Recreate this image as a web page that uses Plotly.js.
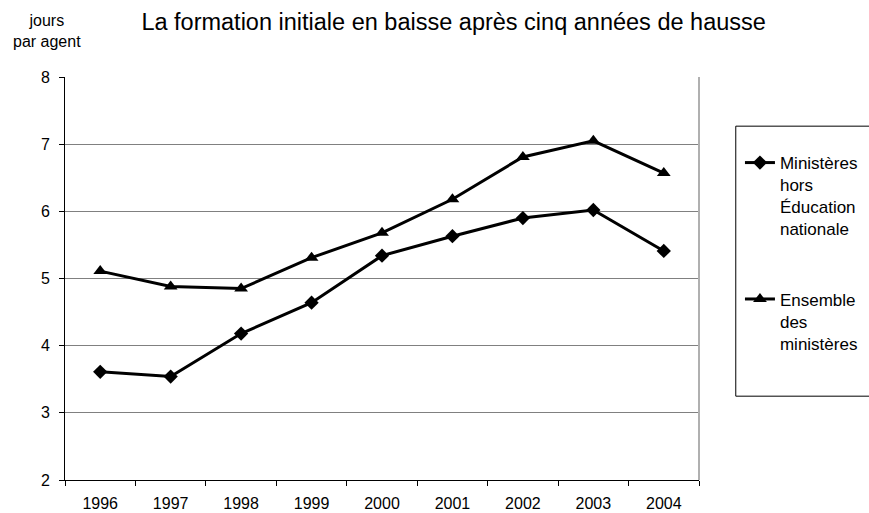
<!DOCTYPE html>
<html>
<head>
<meta charset="utf-8">
<script src="https://cdn.plot.ly/plotly-3.0.1.min.js"></script>
<style>html,body{margin:0;padding:0;background:#fff;}#chart{width:869px;height:513px;}</style>
</head>
<body>
<div id="chart"></div>
<script>
var years = ['1996','1997','1998','1999','2000','2001','2002','2003','2004'];
var horsEducation = [3.61, 3.54, 4.18, 4.64, 5.34, 5.63, 5.90, 6.02, 5.41];
var ensemble = [5.11, 4.88, 4.85, 5.31, 5.68, 6.18, 6.81, 7.05, 6.57];
var seriesNames = ['Ministères<br>hors<br>Éducation<br>nationale', 'Ensemble<br>des<br>ministères'];
var yTicks = [2, 3, 4, 5, 6, 7, 8];

var font = 'Liberation Sans, Arial, sans-serif';
var traces = [
  {x: years, y: horsEducation, name: seriesNames[0], type: 'scatter', mode: 'lines+markers',
   legendgroup: 'a',
   line: {color: '#000', width: 3}, marker: {symbol: 'diamond', size: 11, color: '#000'}},
  {x: years, y: ensemble, name: seriesNames[1], type: 'scatter', mode: 'lines+markers',
   legendgroup: 'b',
   line: {color: '#000', width: 3}, marker: {symbol: 'triangle-up', size: 12, color: '#000'}}
];
var layout = {
  width: 869, height: 513,
  margin: {l: 65, r: 170, t: 77, b: 33},
  paper_bgcolor: '#fff', plot_bgcolor: '#fff',
  font: {family: font, size: 16, color: '#000'},
  title: {text: 'La formation initiale en baisse après cinq années de hausse',
          font: {family: font, size: 23.5, color: '#000'}, x: 0.522, xanchor: 'center', y: 0.957, yanchor: 'middle'},
  xaxis: {type: 'category', range: [-0.5, years.length - 0.5], tickson: 'boundaries', ticks: 'outside', ticklen: 5, tickcolor: '#000',
          showline: true, linecolor: '#000', linewidth: 1, showgrid: false, ticklabelstandoff: 9,
          tickfont: {family: font, size: 16, color: '#000'}},
  yaxis: {range: [2, 8], tickvals: yTicks, ticks: 'outside', ticklen: 5, tickcolor: '#000',
          showline: true, linecolor: '#000', linewidth: 1, showgrid: true, gridcolor: '#808080', gridwidth: 1,
          zeroline: false, tickfont: {family: font, size: 16, color: '#000'}, ticklabelstandoff: 6},
  showlegend: true,
  legend: {xref: 'container', yref: 'container', x: 0.8515, xanchor: 'left', y: 0.7173, yanchor: 'top',
           traceorder: 'grouped', tracegroupgap: 45, valign: 'top',
           font: {family: font, size: 17, color: '#000'}, bgcolor: 'rgba(0,0,0,0)', borderwidth: 0,
           itemwidth: 30},
  shapes: [
    {type: 'line', xref: 'paper', yref: 'paper', x0: 1, x1: 1, y0: 0, y1: 1, line: {color: '#b0b0b0', width: 2}},
    {type: 'rect', xref: 'paper', yref: 'paper', x0: 1.058, x1: 1.4, y0: 0.208, y1: 0.878, line: {color: '#000', width: 1}}
  ],
  annotations: [
    {text: 'jours<br>par agent', xref: 'paper', yref: 'paper', x: -0.028, y: 1.114, xanchor: 'center', yanchor: 'middle',
     showarrow: false, font: {family: font, size: 16, color: '#000'}}
  ]
};
Plotly.newPlot('chart', traces, layout, {displayModeBar: false, staticPlot: true});
</script>
</body>
</html>
